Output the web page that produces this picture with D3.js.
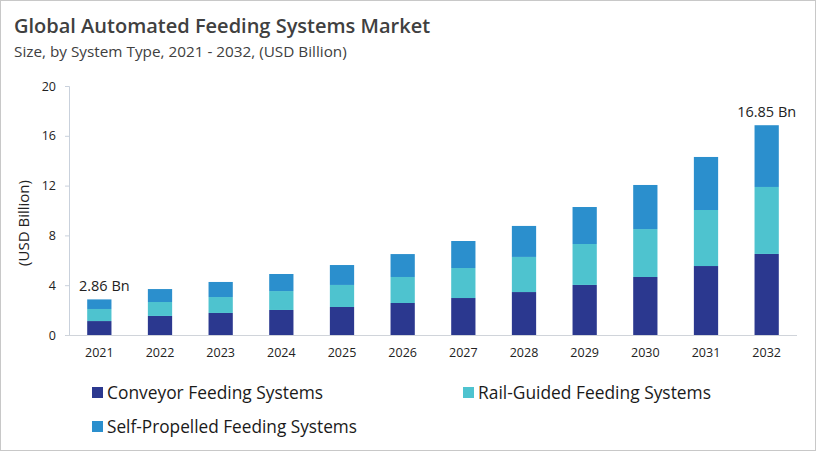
<!DOCTYPE html>
<html>
<head>
<meta charset="utf-8">
<script src="https://d3js.org/d3.v7.min.js"></script>
<style>
  body { margin: 0; background: #fff; }
  svg { display: block; }
</style>
</head>
<body>
<script>
  // values, USD billion
  const years = ['2021', '2022', '2023', '2024', '2025', '2026', '2027', '2028', '2029', '2030', '2031', '2032'];
  const conveyor = [1.12, 1.53, 1.77, 2.01, 2.25, 2.57, 2.97, 3.45, 4.02, 4.66, 5.54, 6.51];
  const railGuided = [0.97, 1.12, 1.28, 1.52, 1.77, 2.09, 2.41, 2.82, 3.29, 3.85, 4.50, 5.38];
  const selfPropelled = [0.77, 1.04, 1.21, 1.37, 1.60, 1.84, 2.17, 2.49, 2.97, 3.54, 4.26, 4.96];
  const seriesNames = ['Conveyor Feeding Systems', 'Rail-Guided Feeding Systems', 'Self-Propelled Feeding Systems'];
  const yTicks = [0, 4, 8, 12, 16, 20];
  const labels = { '2021': '2.86 Bn', '2032': '16.85 Bn' };

  const colors = ['#2b388f', '#4ec3cf', '#2b8fcd'];
  const width = 817, height = 452;

  const svg = d3.select('body').append('svg')
    .attr('width', width)
    .attr('height', height);

  // frame
  svg.append('rect')
    .attr('x', 0.5).attr('y', 0.5)
    .attr('width', width - 2).attr('height', height - 2)
    .attr('fill', 'none')
    .attr('stroke', '#c8c8c8');

  svg.append('text')
    .attr('x', 14).attr('y', 33)
    .attr('font-family', 'Open Sans')
    .attr('font-weight', 600)
    .attr('font-size', 20)
    .attr('fill', '#404040')
    .text('Global Automated Feeding Systems Market');

  svg.append('text')
    .attr('x', 14).attr('y', 57)
    .attr('font-family', 'Open Sans')
    .attr('font-size', 15.3)
    .attr('fill', '#404040')
    .text('Size, by System Type, 2021 - 2032, (USD Billion)');

  const x = d3.scaleBand()
    .domain(years)
    .range([69, 797])
    .paddingInner(0.6)
    .paddingOuter(0.3);

  const y = d3.scaleLinear()
    .domain([0, 20])
    .range([335, 86]);

  const rows = years.map(function(yr, i) {
    return { year: yr, c: conveyor[i], r: railGuided[i], s: selfPropelled[i] };
  });
  const stack = d3.stack().keys(['c', 'r', 's']);
  const layers = stack(rows);

  // y axis
  const yAxis = svg.append('g')
    .attr('transform', 'translate(69,0)')
    .call(d3.axisLeft(y).tickValues(yTicks).tickSize(4).tickPadding(9));
  yAxis.select('.domain').attr('stroke', '#c9d1dc');
  yAxis.selectAll('.tick line').attr('stroke', '#c9d1dc');
  yAxis.selectAll('.tick text')
    .attr('font-family', 'Open Sans')
    .attr('font-size', 12.5)
    .attr('fill', '#222');

  // x axis
  const xAxis = svg.append('g')
    .attr('transform', 'translate(0,335)')
    .call(d3.axisBottom(x).tickSize(0).tickPadding(13));
  xAxis.select('.domain').attr('stroke', '#d0d4da').attr('d', 'M66,0.5H797');
  xAxis.selectAll('.tick text')
    .attr('font-family', 'Open Sans')
    .attr('font-size', 12.5)
    .attr('fill', '#222');

  svg.append('text')
    .attr('transform', 'translate(29,223) rotate(-90)')
    .attr('text-anchor', 'middle')
    .attr('font-family', 'Open Sans')
    .attr('font-size', 15)
    .attr('fill', '#222')
    .text('(USD Billion)');

  svg.append('g').selectAll('g')
    .data(layers)
    .enter().append('g')
    .attr('fill', function(d, i) { return colors[i]; })
    .selectAll('rect')
    .data(function(d) { return d; })
    .enter().append('rect')
    .attr('x', function(d) { return x(d.data.year); })
    .attr('y', function(d) { return y(d[1]); })
    .attr('width', x.bandwidth())
    .attr('height', function(d) { return y(d[0]) - y(d[1]); });

  // total labels
  const topLayer = layers[2];
  svg.append('g').selectAll('text')
    .data(topLayer.filter(function(d) { return labels[d.data.year]; }))
    .enter().append('text')
    .attr('x', function(d) { return x(d.data.year) + x.bandwidth() / 2 + (d.data.year === '2021' ? 5 : 0); })
    .attr('y', function(d) { return y(d[1]) - 8; })
    .attr('text-anchor', 'middle')
    .attr('font-family', 'Open Sans')
    .attr('font-size', 14.5)
    .attr('fill', '#222')
    .text(function(d) { return labels[d.data.year]; });

  // legend, fitted to the widths of the original
  const legendPos = [[92, 387], [463, 387], [92, 421]];
  const legendWidth = [216, 233, 250];
  const legend = svg.append('g').selectAll('g')
    .data(seriesNames)
    .enter().append('g')
    .attr('transform', function(d, i) { return 'translate(' + legendPos[i][0] + ',' + legendPos[i][1] + ')'; });
  legend.append('rect')
    .attr('x', 0).attr('y', 0)
    .attr('width', 11).attr('height', 11)
    .attr('fill', function(d, i) { return colors[i]; });
  legend.append('text')
    .attr('x', 15).attr('y', 11.5)
    .attr('font-family', 'Open Sans')
    .attr('font-size', 17.5)
    .attr('textLength', function(d, i) { return legendWidth[i]; })
    .attr('lengthAdjust', 'spacingAndGlyphs')
    .attr('fill', '#1a1a1a')
    .text(function(d) { return d; });
</script>
</body>
</html>
